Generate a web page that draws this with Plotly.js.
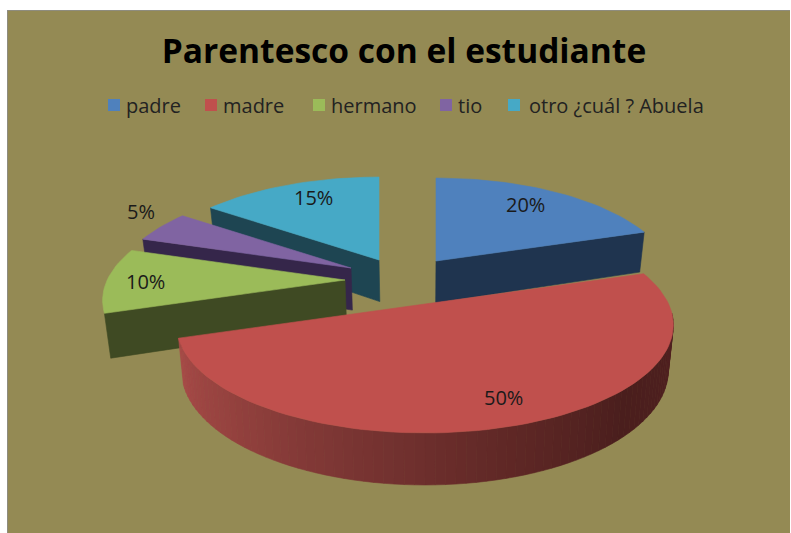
<!DOCTYPE html>
<html><head><meta charset="utf-8">
<script src="https://cdn.plot.ly/plotly-3.0.1.min.js"></script>
<style>html,body{margin:0;padding:0;background:#fff}</style>
</head><body><div id="chart" style="width:791px;height:533px"></div>
<script>
const categories = ['padre','madre','hermano','tio','otro ¿cuál ? Abuela'];
const values = [20,50,10,5,15];
const topColors = ['#4f81bd','#c0504d','#9bbb59','#8064a2','#46a9c6'];
const sideColors = ['#1f344f','#4d1f1f','#3f4a23','#35264a','#1e4552'];

// Placement of each exploded slice on the tilted plane (apex in axis units, size factor)
const apexX = [436,425,345,351,379];
const apexY = [261,304,280,268,260];
const sizeK = [1,1.05,1.025,1,1];
const drawOrder = [4,0,3,2,1];
const labelX = [525,503,145,141,313];
const labelY = [204,397,281,211,197];
const legendSwatchX = [114,211,319,446,514];
const legendTextX = [124,221,329,456,527];
const RX = 232, RY = 99, TILT = 0.194, VANISH_X = 420;

const rad = d => d*Math.PI/180;
function rim(i, deg){
  const X = Math.sin(rad(deg)), Y = Math.cos(rad(deg)), w = 1 + TILT*Y;
  return [apexX[i] + sizeK[i]*RX*X/w, apexY[i] - sizeK[i]*RY*Y/w];
}
const drop = p => [VANISH_X + (p[0]-VANISH_X)*0.98, p[1] + 40 + 0.06*(p[1]-233)];
function poly(pts, color){
  return {type:'scatter', mode:'lines', x:pts.map(p=>p[0]), y:pts.map(p=>p[1]), fill:'toself',
    fillcolor:color, line:{color:color,width:0.6}, hoverinfo:'skip', showlegend:false};
}
function lerpColor(stops, t){
  for(let k=1;k<stops.length;k++){
    if(t<=stops[k][0]){
      const a=stops[k-1], b=stops[k], f=(t-a[0])/(b[0]-a[0]);
      return 'rgb('+[0,1,2].map(c=>Math.round(a[1][c]+(b[1][c]-a[1][c])*f)).join(',')+')';
    }
  }
  const l=stops[stops.length-1][1]; return 'rgb('+l.join(',')+')';
}
const wallStops = [[95,[80,32,32]],[135,[74,30,29]],[165,[96,40,38]],[195,[122,53,51]],[225,[150,66,63]],[252,[168,74,72]]];

// cumulative angles from the values
const total = values.reduce((a,b)=>a+b,0);
const startDeg = [], endDeg = [];
values.reduce((acc,v,i)=>{startDeg[i]=acc; endDeg[i]=acc+v/total*360; return endDeg[i];},0);

const traces = [];
drawOrder.forEach(i=>{
  const s = startDeg[i], e = endDeg[i], apex = [apexX[i],apexY[i]];
  if(i===1){
    for(let d=e; d>Math.max(s,95); d-=2){
      const d2 = Math.max(d-2,95), a=rim(i,d), b=rim(i,d2);
      traces.push(poly([a,b,drop(b),drop(a),a], lerpColor(wallStops,(d+d2)/2)));
    }
  } else {
    const edge = (i===0) ? e : s; // the radial face turned to the viewer
    const p = rim(i,edge);
    traces.push(poly([apex,p,drop(p),drop(apex),apex], sideColors[i]));
  }
  const pts=[apex];
  for(let d=s; d<e; d+=2) pts.push(rim(i,d));
  pts.push(rim(i,e)); pts.push(apex);
  const t = poly(pts, topColors[i]);
  t.hoverinfo='text'; t.text=categories[i]+': '+values[i]+'%'; t.hoveron='fills'; t.name=categories[i];
  traces.push(t);
});
// legend swatches
traces.push({type:'scatter', mode:'markers', x:legendSwatchX, y:categories.map(()=>105),
  marker:{symbol:'square', size:12, color:topColors}, hoverinfo:'skip', showlegend:false});

const annotations = [];
values.forEach((v,i)=>annotations.push({x:labelX[i], y:labelY[i], xref:'x', yref:'y', text:v+'%', showarrow:false,
  font:{family:'Open Sans, sans-serif', size:20, color:'#1a1a1a'}}));
categories.forEach((c,i)=>annotations.push({x:legendTextX[i], y:105, xref:'x', yref:'y', xanchor:'left', text:c, showarrow:false,
  font:{family:'Open Sans, sans-serif', size:20, color:'#222'}}));

const layout = {
  width:791, height:533, paper_bgcolor:'#ffffff', plot_bgcolor:'#948a54',
  margin:{l:7,r:1,t:10,b:0,pad:0}, showlegend:false,
  title:{text:'<b>Parentesco con el estudiante</b>', x:404/791, xanchor:'center', y:1-51/533, yanchor:'middle',
    font:{family:'Open Sans, sans-serif', size:33.5, color:'#000'}},
  xaxis:{range:[7,790], visible:false, fixedrange:true},
  yaxis:{range:[533,10], visible:false, fixedrange:true},
  annotations,
  shapes:[{type:'line',xref:'x',yref:'y',x0:7,x1:7,y0:10,y1:533,line:{color:'#8c8c8c',width:1.5}},
          {type:'line',xref:'x',yref:'y',x0:7,x1:790,y0:10,y1:10,line:{color:'#8c8c8c',width:1.5}}]
};
Plotly.newPlot('chart', traces, layout, {displayModeBar:false, responsive:false});
</script></body></html>
